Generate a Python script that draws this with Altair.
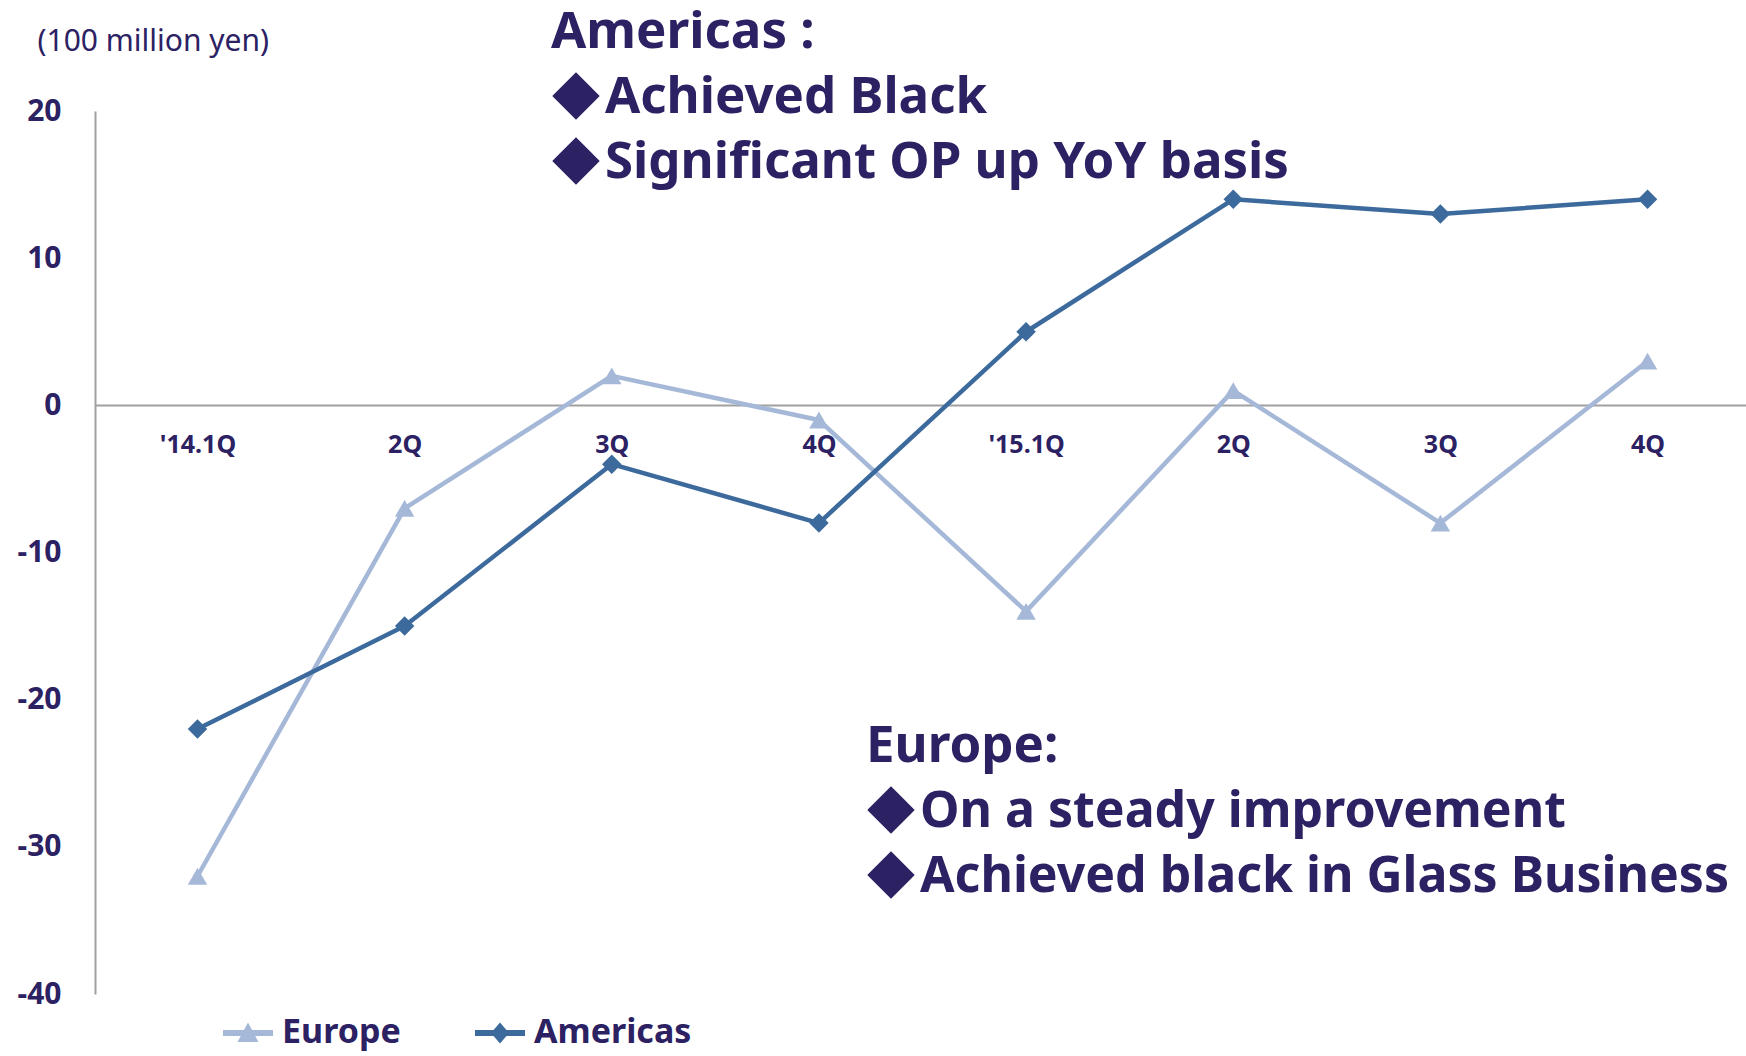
import json
import altair as alt
import pandas as pd

# ---- data ----
quarters = ["'14.1Q", "2Q", "3Q", "4Q", "'15.1Q", "2Q", "3Q", "4Q"]
europe = [-32, -7, 2, -1, -14, 1, -8, 3]
americas = [-22, -15, -4, -8, 5, 14, 13, 14]
series_names = ["Europe", "Americas"]
y_ticks = [20, 10, 0, -10, -20, -30, -40]
americas_head = "Americas :"
americas_bullets = ["Achieved Black", "Significant OP up YoY basis"]
europe_head = "Europe:"
europe_bullets = ["On a steady improvement", "Achieved black in Glass Business"]

# ---- styles ----
series_colors = ["#A6B8D8", "#3D6A9C"]
NAVY = "#2B2163"
GREY = "#A0A0A0"
FONT = "Noto Sans"

rows = []
for i in range(len(quarters)):
    rows.append({"idx": i, "series": "Europe", "value": europe[i]})
    rows.append({"idx": i, "series": "Americas", "value": americas[i]})
df = pd.DataFrame(rows)

label_expr = json.dumps(quarters) + "[datum.value]"

x_enc = alt.X(
    "idx:O",
    scale=alt.Scale(type="point", padding=0.485, align=0.51),
    axis=alt.Axis(
        title=None, labelExpr=label_expr, labelAngle=0, offset=-589,
        domainColor=GREY, domainWidth=2, ticks=False, grid=False,
        labelPadding=27, labelFont=FONT, labelFontSize=25,
        labelFontWeight="bold", labelColor=NAVY,
    ),
)
y_enc = alt.Y(
    "value:Q",
    scale=alt.Scale(domain=[-40, 20], nice=False, zero=False),
    axis=alt.Axis(
        values=y_ticks, labelExpr="'' + datum.value",
        title="(100 million yen)", titleAngle=0,
        titleX=-58, titleY=-61, titleAlign="left", titleBaseline="alphabetic",
        titleFont=FONT, titleFontSize=30, titleFontWeight="normal", titleColor=NAVY,
        labelFont=FONT, labelFontSize=30, labelFontWeight="bold", labelColor=NAVY,
        labelPadding=34, ticks=False, grid=False, domainColor=GREY, domainWidth=2,
    ),
)

base = alt.Chart(df)

def series_layers(k, shape):
    sub = base.transform_filter(alt.datum.series == series_names[k])
    line = sub.mark_line(strokeWidth=4.5, strokeJoin="round", color=series_colors[k]).encode(
        x=x_enc, y=y_enc
    )
    pts = sub.mark_point(shape=shape, filled=True, size=380, opacity=1,
                         color=series_colors[k]).encode(x=x_enc, y=y_enc)
    return [line, pts]

legend_paths = [
    "M-1,-0.12H1V0.12H-1Z M0,-0.42L0.42,0.36L-0.42,0.36Z",
    "M-1,-0.12H1V0.12H-1Z M0,-0.42L0.36,0L0,0.42L-0.36,0Z",
]
legend_props = dict(
    title=None, orient="none", legendX=128, legendY=897, direction="horizontal",
    symbolSize=2500, symbolStrokeWidth=0, symbolOpacity=1,
    labelFont=FONT, labelFontSize=34, labelFontWeight="bold", labelColor=NAVY,
    labelOffset=9, columnPadding=74, labelLimit=400,
)
legend_layer = base.mark_point(filled=True, opacity=0).encode(
    x=x_enc, y=y_enc,
    color=alt.Color("series:N", scale=alt.Scale(domain=series_names, range=series_colors),
                    legend=alt.Legend(**legend_props)),
    shape=alt.Shape("series:N", scale=alt.Scale(domain=series_names, range=legend_paths),
                    legend=alt.Legend(**legend_props)),
)

def txt(s, px, py, size):
    return alt.Chart(pd.DataFrame({"t": [s]})).mark_text(
        align="left", baseline="alphabetic", font=FONT, fontWeight="bold",
        fontSize=size, color=NAVY,
    ).encode(text="t:N", x=alt.value(px), y=alt.value(py))

def bullet(px, py):
    return alt.Chart(pd.DataFrame({"b": [0]})).mark_point(
        shape="diamond", filled=True, size=2250, color=NAVY, opacity=1,
    ).encode(x=alt.value(px), y=alt.value(py))

def note(head, bullets, px, py, size):
    out = [txt(head, px, py, 51)]
    for k, b in enumerate(bullets):
        by = py + 65 * (k + 1)
        out.append(bullet(px + 25, by - 17))
        out.append(txt(b, px + 54, by, size))
    return out

layers = (series_layers(0, "triangle-up") + series_layers(1, "diamond")
          + [legend_layer]
          + note(americas_head, americas_bullets, 456, -63, 51)
          + note(europe_head, europe_bullets, 771, 651, 50))

chart = alt.layer(*layers).properties(
    width=1651, height=883,
    autosize=alt.AutoSizeParams(type="none"),
    padding={"left": 95, "top": 111, "right": 0, "bottom": 62},
    background="white",
).configure_view(stroke=None)

chart.save("out.html", embed_options={"renderer": "svg", "actions": False})
